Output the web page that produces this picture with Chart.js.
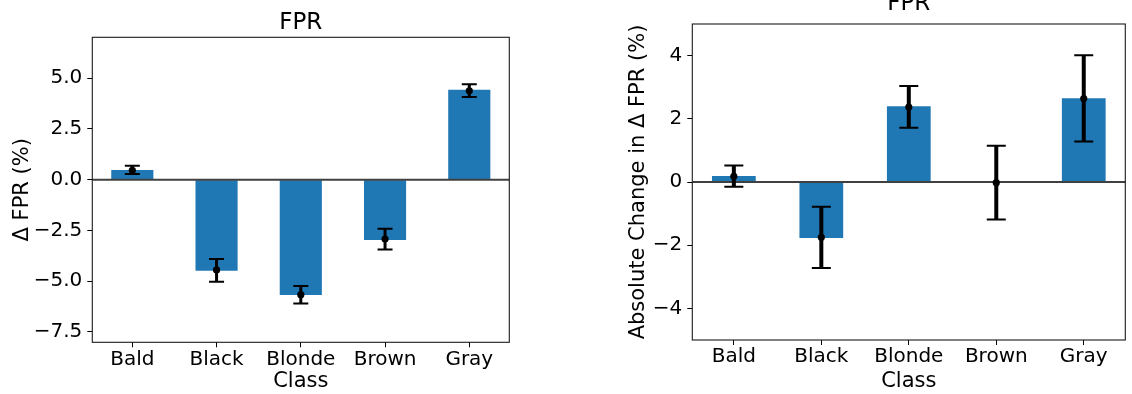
<!DOCTYPE html>
<html>
<head>
<meta charset="utf-8">
<script src="https://cdn.jsdelivr.net/npm/chart.js@4.4.1/dist/chart.umd.min.js"></script>
<style>
  html, body { margin: 0; padding: 0; background: #ffffff; }
  #wrap { position: relative; width: 1132px; height: 394px; overflow: hidden; background: #fff; }
  .panel { position: absolute; top: 0; width: 566px; height: 394px; }
</style>
</head>
<body>
<div id="wrap">
  <div class="panel" style="left:0"><canvas id="c1" width="566" height="394"></canvas></div>
  <div class="panel" style="left:566px"><canvas id="c2" width="566" height="394"></canvas></div>
</div>
<script>
// ---- data ----
const categories = ['Bald', 'Black', 'Blonde', 'Brown', 'Gray'];

// left panel: Δ FPR (%)
const leftBars      = [0.48, -4.49, -5.69, -2.97, 4.43];
const leftPoints    = [0.46, -4.45, -5.67, -2.93, 4.38];
const leftErrLow    = [0.28, -5.03, -6.11, -3.45, 4.08];
const leftErrHigh   = [0.68, -3.91, -5.24, -2.42, 4.71];
const leftYTicks    = [-7.5, -5.0, -2.5, 0.0, 2.5, 5.0];

// right panel: Absolute Change in Δ FPR (%)
const rightBars     = [0.19, -1.77, 2.40, -0.02, 2.65];
const rightPoints   = [0.18, -1.75, 2.37, -0.02, 2.64];
const rightErrLow   = [-0.15, -2.72, 1.72, -1.19, 1.28];
const rightErrHigh  = [0.52, -0.78, 3.04, 1.15, 4.01];
const rightYTicks   = [-4, -2, 0, 2, 4];

const FONT = '"DejaVu Sans", "Liberation Sans", sans-serif';
const BAR_COLOR = '#1f77b4';

function fmt(v, dec) {
  const s = Math.abs(v).toFixed(dec);
  return (v < 0 ? '\u2212' : '') + s;
}

const overlayPlugin = {
  id: 'overlay',
  afterLayout(chart) {
    // centre the title over the plot area (as matplotlib does)
    const t = chart.titleBlock;
    if (t) {
      t.left = chart.chartArea.left;
      t.right = chart.chartArea.right;
      t.width = t.right - t.left;
    }
  },
  afterDatasetsDraw(chart, args, opts) {
    const ctx = chart.ctx;
    const xs = chart.scales.x, ys = chart.scales.y;
    const area = chart.chartArea;
    ctx.save();
    // zero line
    const y0 = ys.getPixelForValue(0);
    ctx.strokeStyle = '#404040';
    ctx.lineWidth = opts.zeroWidth;
    ctx.beginPath();
    ctx.moveTo(area.left, y0);
    ctx.lineTo(area.right, y0);
    ctx.stroke();
    // error bars
    for (let i = 0; i < categories.length; i++) {
      const x = xs.getPixelForValue(i);
      const yl = ys.getPixelForValue(opts.low[i]);
      const yh = ys.getPixelForValue(opts.high[i]);
      const yp = ys.getPixelForValue(opts.points[i]);
      ctx.strokeStyle = '#000';
      ctx.lineWidth = opts.lineWidth;
      ctx.beginPath();
      ctx.moveTo(x, yl); ctx.lineTo(x, yh);
      ctx.stroke();
      ctx.lineWidth = opts.capWidth;
      const hc = opts.capSize / 2;
      ctx.beginPath();
      ctx.moveTo(x - hc, yl); ctx.lineTo(x + hc, yl);
      ctx.moveTo(x - hc, yh); ctx.lineTo(x + hc, yh);
      ctx.stroke();
      ctx.fillStyle = '#000';
      ctx.beginPath();
      ctx.arc(x, yp, opts.radius, 0, Math.PI * 2);
      ctx.fill();
    }
    // frame
    ctx.strokeStyle = '#1a1a1a';
    ctx.lineWidth = 1.1;
    ctx.strokeRect(area.left, area.top, area.right - area.left, area.bottom - area.top);
    ctx.restore();
  }
};

function makeChart(canvasId, cfg) {
  return new Chart(document.getElementById(canvasId), {
    type: 'bar',
    data: {
      datasets: [{
        data: cfg.bars.map((v, i) => ({ x: i, y: v })),
        backgroundColor: BAR_COLOR,
        borderWidth: 0,
        barPercentage: 1.0,
        categoryPercentage: 0.5
      }]
    },
    options: {
      responsive: false,
      animation: false,
      devicePixelRatio: 1,
      layout: { padding: cfg.padding },
      plugins: {
        legend: { display: false },
        tooltip: { enabled: false },
        title: {
          display: true,
          text: 'FPR',
          color: '#000',
          font: { family: FONT, size: 23, weight: 'normal' },
          padding: cfg.titlePadding
        },
        overlay: {
          low: cfg.low, high: cfg.high, points: cfg.points,
          lineWidth: cfg.errLine, capWidth: 2, capSize: cfg.capSize,
          radius: cfg.radius, zeroWidth: cfg.zeroWidth
        }
      },
      scales: {
        x: {
          type: 'linear',
          offset: false,
          min: -0.475,
          max: 4.475,
          afterBuildTicks: s => { s.ticks = categories.map((c, i) => ({ value: i })); },
          afterFit: s => { s.height = cfg.xHeight; },
          ticks: {
            callback: v => categories[v],
            color: '#000',
            font: { family: FONT, size: 20 },
            padding: 0,
            maxRotation: 0,
            autoSkip: false
          },
          grid: { offset: false, drawOnChartArea: false, drawTicks: true, tickLength: 5, tickColor: '#000', tickWidth: 1 },
          border: { display: false },
          title: {
            display: true, text: 'Class', color: '#000',
            font: { family: FONT, size: 21 }, padding: { top: 0, bottom: 0 }
          }
        },
        y: {
          min: cfg.yMin,
          max: cfg.yMax,
          afterBuildTicks: s => { s.ticks = cfg.yTicks.map(v => ({ value: v })); },
          afterFit: s => { s.width = cfg.yWidth; },
          ticks: {
            callback: v => fmt(v, cfg.dec),
            color: '#000',
            font: { family: FONT, size: 20 },
            padding: 5
          },
          grid: { drawOnChartArea: false, drawTicks: true, tickLength: 5, tickColor: '#000', tickWidth: 1 },
          border: { display: false },
          title: {
            display: true, text: cfg.yLabel, color: '#000',
            font: { family: FONT, size: 21 }, padding: { top: 0, bottom: 0 }
          }
        }
      }
    },
    plugins: [overlayPlugin]
  });
}

makeChart('c1', {
  bars: leftBars, points: leftPoints, low: leftErrLow, high: leftErrHigh,
  yTicks: leftYTicks, yMin: -8.02, yMax: 7.02, dec: 1,
  yLabel: '\u0394 FPR (%)',
  padding: { left: 10, right: 56.7, top: 0, bottom: 0 },
  titlePadding: { top: 9.0, bottom: 0.7 },
  yWidth: 82.3, xHeight: 51.7,
  errLine: 3, capSize: 15, radius: 3.6, zeroWidth: 2
});

makeChart('c2', {
  bars: rightBars, points: rightPoints, low: rightErrLow, high: rightErrHigh,
  yTicks: rightYTicks, yMin: -5, yMax: 5, dec: 0,
  yLabel: 'Absolute Change in \u0394 FPR (%)',
  padding: { left: 60, right: 6.7, top: 0, bottom: 0 },
  titlePadding: { top: -9.8, bottom: 6.2 },
  yWidth: 66.3, xHeight: 54,
  errLine: 4, capSize: 19, radius: 3.6, zeroWidth: 2
});
</script>
</body>
</html>
